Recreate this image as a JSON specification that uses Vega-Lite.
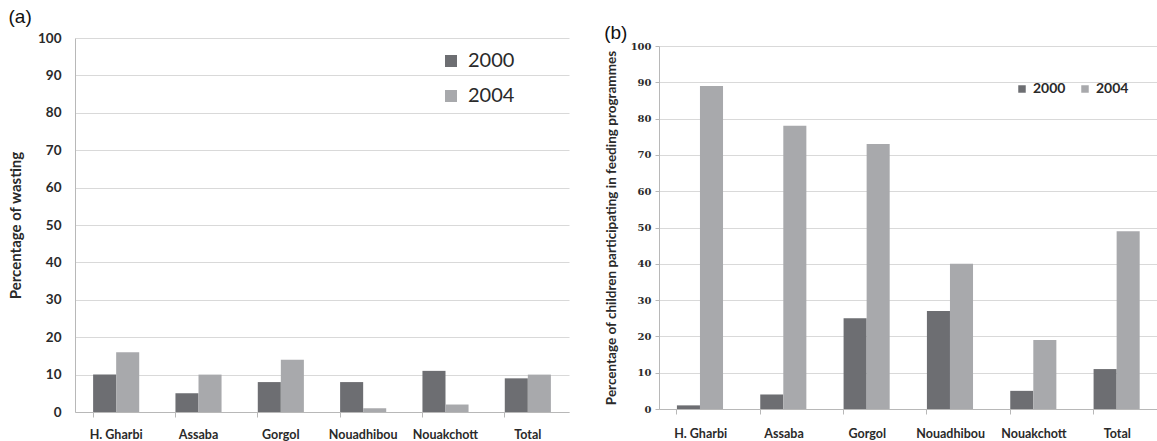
{
  "$schema": "https://vega.github.io/schema/vega-lite/v6.json",
  "background": "white",
  "padding": {"left": 8, "top": 8, "right": 0, "bottom": 0},
  "spacing": 35,
  "datasets": {
    "wasting": [
      {"region": "H. Gharbi", "year": "2000", "value": 10},
      {"region": "H. Gharbi", "year": "2004", "value": 16},
      {"region": "Assaba", "year": "2000", "value": 5},
      {"region": "Assaba", "year": "2004", "value": 10},
      {"region": "Gorgol", "year": "2000", "value": 8},
      {"region": "Gorgol", "year": "2004", "value": 14},
      {"region": "Nouadhibou", "year": "2000", "value": 8},
      {"region": "Nouadhibou", "year": "2004", "value": 1},
      {"region": "Nouakchott", "year": "2000", "value": 11},
      {"region": "Nouakchott", "year": "2004", "value": 2},
      {"region": "Total", "year": "2000", "value": 9},
      {"region": "Total", "year": "2004", "value": 10}
    ],
    "feeding": [
      {"region": "H. Gharbi", "year": "2000", "value": 1},
      {"region": "H. Gharbi", "year": "2004", "value": 89},
      {"region": "Assaba", "year": "2000", "value": 4},
      {"region": "Assaba", "year": "2004", "value": 78},
      {"region": "Gorgol", "year": "2000", "value": 25},
      {"region": "Gorgol", "year": "2004", "value": 73},
      {"region": "Nouadhibou", "year": "2000", "value": 27},
      {"region": "Nouadhibou", "year": "2004", "value": 40},
      {"region": "Nouakchott", "year": "2000", "value": 5},
      {"region": "Nouakchott", "year": "2004", "value": 19},
      {"region": "Total", "year": "2000", "value": 11},
      {"region": "Total", "year": "2004", "value": 49}
    ]
  },
  "config": {
    "view": {"stroke": null},
    "axis": {"domainColor": "#b8b8b8", "tickColor": "#b8b8b8", "gridColor": "#d9d9d9", "labelColor": "#2a2a2a", "titleColor": "#2a2a2a"},
    "title": {"font": "Liberation Sans", "fontSize": 19, "fontWeight": "normal", "color": "#111", "anchor": "start", "frame": "bounds"}
  },
  "resolve": {"scale": {"y": "independent", "color": "independent", "x": "independent"}, "legend": {"color": "independent"}},
  "hconcat": [
    {
      "title": {"text": "(a)", "offset": 4},
      "width": 494,
      "height": 374,
      "data": {"name": "wasting"},
      "mark": {"type": "bar"},
      "encoding": {
        "x": {
          "field": "region", "type": "nominal", "sort": null,
          "scale": {"paddingInner": 0.44, "paddingOuter": 0.22},
          "axis": {"title": null, "labelAngle": 0, "bandPosition": 0, "tickSize": 5, "labelPadding": 11,
                   "labelFont": "Lato", "labelFontWeight": "bold", "labelFontSize": 12.5}
        },
        "xOffset": {"field": "year", "type": "nominal", "scale": {"paddingInner": 0}},
        "y": {
          "field": "value", "type": "quantitative",
          "scale": {"domain": [0, 100]},
          "axis": {"title": "Percentage of wasting", "values": [0,10,20,30,40,50,60,70,80,90,100], "ticks": false, "labelPadding": 14,
                   "labelFont": "Lato", "labelFontSize": 13.5, "labelFontWeight": "bold",
                   "titleFont": "Lato", "titleFontSize": 15, "titleFontWeight": "bold", "titlePadding": 14}
        },
        "color": {
          "field": "year", "type": "nominal",
          "scale": {"domain": ["2000", "2004"], "range": ["#6d6e72", "#a8a9ac"]},
          "legend": {"title": null, "orient": "none", "legendX": 366, "legendY": 13, "symbolType": "square", "symbolSize": 144,
                     "symbolStrokeWidth": 0, "labelFont": "Lato", "labelFontSize": 20, "labelColor": "#2a2a2a", "rowPadding": 15, "labelOffset": 7}
        }
      }
    },
    {
      "title": {"text": "(b)", "offset": 4, "dy": 9},
      "width": 500,
      "height": 371,
      "data": {"name": "feeding"},
      "mark": {"type": "bar"},
      "encoding": {
        "x": {
          "field": "region", "type": "nominal", "sort": null,
          "scale": {"paddingInner": 0.43, "paddingOuter": 0.215},
          "axis": {"title": null, "labelAngle": 0, "bandPosition": 0, "tickSize": 5, "labelPadding": 13,
                   "labelFont": "Lato", "labelFontWeight": "bold", "labelFontSize": 12.5}
        },
        "xOffset": {"field": "year", "type": "nominal", "scale": {"paddingInner": 0}},
        "y": {
          "field": "value", "type": "quantitative",
          "scale": {"domain": [0, 100], "range": [371, 8]},
          "axis": {"title": "Percentage of children participating in feeding programmes", "values": [0,10,20,30,40,50,60,70,80,90,100],
                   "tickSize": 4, "labelPadding": 4,
                   "labelFont": "DejaVu Serif", "labelFontSize": 10, "labelFontWeight": "bold",
                   "titleFont": "Lato", "titleFontSize": 13.5, "titleFontWeight": "bold", "titlePadding": 12}
        },
        "color": {
          "field": "year", "type": "nominal",
          "scale": {"domain": ["2000", "2004"], "range": ["#6d6e72", "#a8a9ac"]},
          "legend": {"title": null, "orient": "none", "direction": "horizontal", "legendX": 356, "legendY": 44, "symbolType": "square", "symbolSize": 56,
                     "symbolStrokeWidth": 0, "labelFont": "Lato", "labelFontWeight": "bold", "labelFontSize": 14, "labelColor": "#2a2a2a", "columnPadding": 12, "labelOffset": 4}
        }
      }
    }
  ]
}
